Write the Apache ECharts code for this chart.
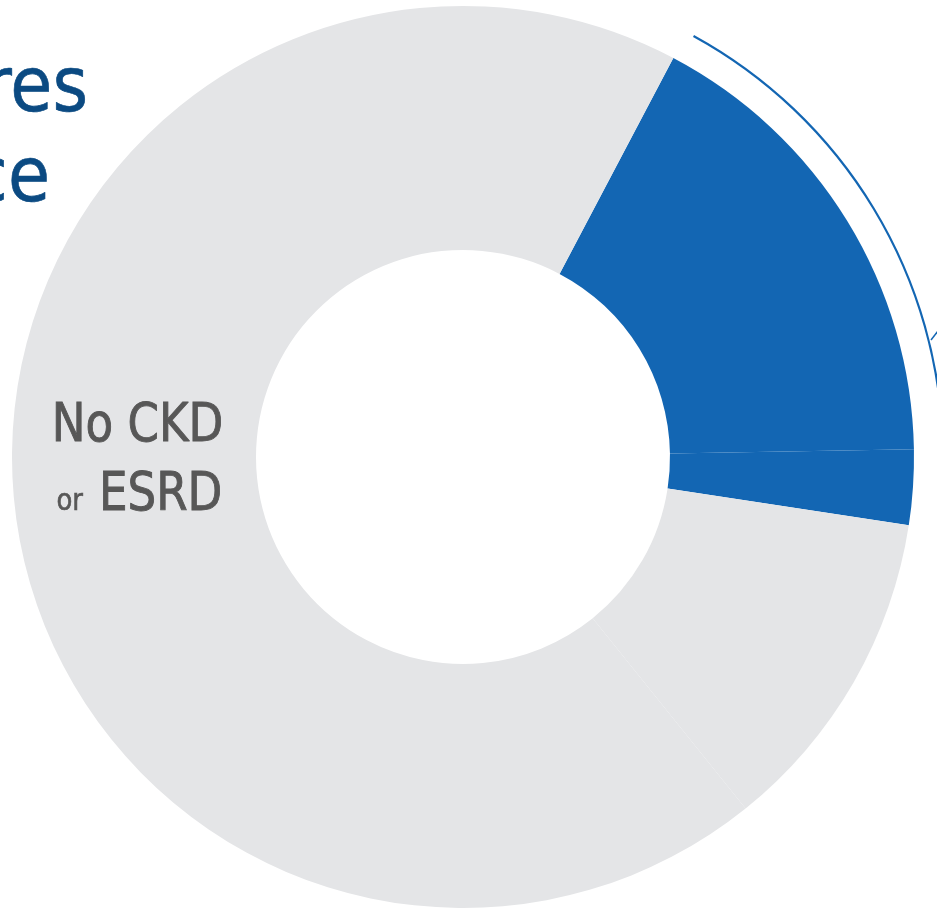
<!DOCTYPE html>
<html>
<head>
<meta charset="utf-8">
<title>Donut</title>
<script src="https://cdn.jsdelivr.net/npm/echarts@6/dist/echarts.min.js"></script>
<style>
  html, body { margin: 0; padding: 0; background: #ffffff; }
  #chart { width: 937px; height: 910px; }
</style>
</head>
<body>
<div id="chart"></div>
<script>
// Shares of the whole (percent), clockwise from the first blue slice
const categories = ['CKD', 'ESRD', 'Other', 'No CKD or ESRD'];
const shares = [17.0, 2.7, 11.8, 68.5];
const sliceColors = ['#1366b3', '#1366b3', '#e4e5e7', '#e4e5e7'];

// Text fragments
const titleLines = ['res', 'ce'];
const labelLine1 = 'No CKD';
const labelSmall = 'or';
const labelLine2 = 'ESRD';

const FONT = "'Liberation Sans Narrow', 'DejaVu Sans Condensed', 'Liberation Sans', sans-serif";
const LABEL_COLOR = '#575757';
const TITLE_COLOR = '#0b4a82';

const CX = 463, CY = 457;
const R_IN = 207, R_OUT = 451;
const START_FROM_TOP = 27.8; // degrees clockwise from 12 o'clock

const chart = echarts.init(document.getElementById('chart'), null, { renderer: 'canvas' });

// Bracket arc follows the CKD slice on the outside
const total = shares.reduce((a, b) => a + b, 0);
const ckdSpanDeg = shares[0] / total * 360;
const toRad = d => (d - 90) * Math.PI / 180;

// Text placed by its top edge; baseline sits about 0.78 em below it
const textEl = (str, x, baseline, size, color, align, sx, weight) => ({
  type: 'text',
  silent: true,
  z: 100,
  x: x,
  y: baseline - 0.78 * size,
  scaleX: sx,
  style: {
    text: str,
    font: size + 'px ' + FONT,
    fill: color,
    stroke: weight ? color : null,
    lineWidth: weight || 0,
    align: align,
    verticalAlign: 'top'
  }
});

const option = {
  animation: false,
  backgroundColor: '#ffffff',
  series: [{
    type: 'pie',
    z: 1,
    center: [CX, CY],
    radius: [R_IN, R_OUT],
    startAngle: 90 - START_FROM_TOP,
    clockwise: true,
    avoidLabelOverlap: false,
    silent: true,
    label: { show: false },
    labelLine: { show: false },
    emphasis: { disabled: true },
    itemStyle: { borderWidth: 0 },
    data: categories.map((name, i) => ({
      name: name,
      value: shares[i],
      itemStyle: { color: sliceColors[i] }
    }))
  }],
  graphic: {
    elements: [
      {
        type: 'arc',
        silent: true,
        z: 100,
        shape: {
          cx: CX, cy: CY, r: 480,
          startAngle: toRad(START_FROM_TOP + 0.9),
          endAngle: toRad(START_FROM_TOP + ckdSpanDeg),
          clockwise: true
        },
        style: { stroke: '#1366b3', lineWidth: 2.2, fill: null }
      },
      {
        type: 'line',
        silent: true,
        z: 100,
        shape: { x1: 931, y1: 340, x2: 938, y2: 331 },
        style: { stroke: '#1366b3', lineWidth: 1.5 }
      },
      textEl(titleLines[0], 88, 113, 76, TITLE_COLOR, 'right', 1, 0.6),
      textEl(titleLines[1], 50, 203, 76, TITLE_COLOR, 'right', 1, 0.6),
      textEl(labelLine1, 137.5, 442, 54, LABEL_COLOR, 'center', 0.93, 0.9),
      textEl(labelSmall, 83, 511, 31, LABEL_COLOR, 'right', 0.93, 0.6),
      textEl(labelLine2, 99, 511, 54, LABEL_COLOR, 'left', 0.93, 0.9)
    ]
  }
};

chart.setOption(option);
</script>
</body>
</html>
